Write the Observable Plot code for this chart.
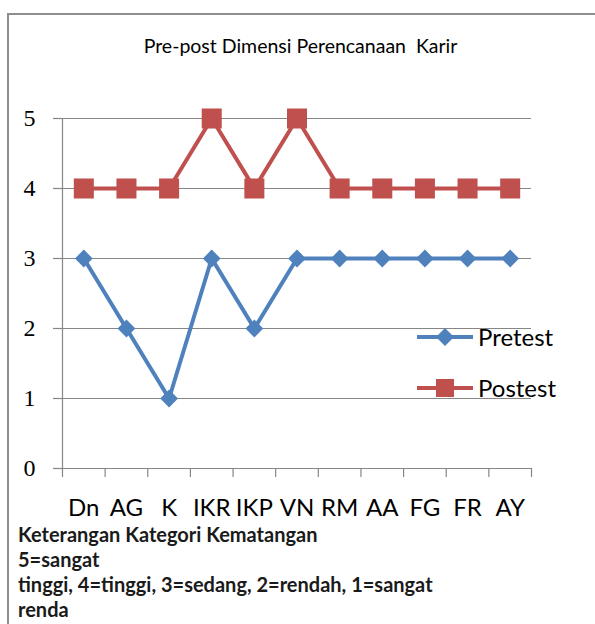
<!DOCTYPE html>
<html>
<head>
<meta charset="utf-8">
<script src="https://cdn.jsdelivr.net/npm/d3@7"></script>
<script src="https://cdn.jsdelivr.net/npm/@observablehq/plot@0.6"></script>
<style>
  html, body { margin: 0; padding: 0; background: #fff; overflow: hidden; }
  #wrap { position: relative; width: 595px; height: 624px; overflow: hidden; font-family: Lato, sans-serif; color: #000; }
  #frame { position: absolute; left: 7px; top: 13px; width: 800px; height: 800px; border-left: 2px solid #8e8e8e; border-top: 2px solid #8e8e8e; box-sizing: border-box; }
  #chart { position: absolute; left: 0; top: 0; }
  #title { position: absolute; left: 0; width: 601px; top: 34px; text-align: center; font-size: 19.5px; line-height: 24px; white-space: pre; }
  .leg { position: absolute; left: 415px; height: 30px; }
  .leg span { position: absolute; left: 63px; top: 0; font-size: 24px; line-height: 30px; white-space: nowrap; }
  #footer { position: absolute; left: 18px; top: 522px; font-size: 20px; font-weight: bold; line-height: 25px; color: #1a1a1a; white-space: nowrap; }
  #footer div { height: 25px; }
</style>
</head>
<body>
<div id="wrap">
  <div id="frame"></div>
  <div id="chart"></div>
  <div id="title"></div>
  <div id="legend"></div>
  <div id="footer"></div>
</div>
<script>
const titleText = "Pre-post Dimensi Perencanaan  Karir";
const categories = ["Dn", "AG", "K", "IKR", "IKP", "VN", "RM", "AA", "FG", "FR", "AY"];
const pretest = [3, 2, 1, 3, 2, 3, 3, 3, 3, 3, 3];
const postest = [4, 4, 4, 5, 4, 5, 4, 4, 4, 4, 4];
const yTicks = [0, 1, 2, 3, 4, 5];
const seriesNames = ["Pretest", "Postest"];
const seriesColors = ["#4F81BD", "#C0504D"];
const footerLines = [
  "Keterangan Kategori Kematangan",
  "5=sangat",
  "tinggi, 4=tinggi, 3=sedang, 2=rendah, 1=sangat",
  "renda"
];

const data = categories.flatMap((c, i) => [
  {i, c, series: "Pretest", v: pretest[i]},
  {i, c, series: "Postest", v: postest[i]}
]);
const pre = data.filter(d => d.series === "Pretest");
const post = data.filter(d => d.series === "Postest");
const grid = "#868686";

const chart = Plot.plot({
  width: 595,
  height: 624,
  marginLeft: 62,
  marginRight: 64,
  marginTop: 118,
  marginBottom: 156,
  style: {background: "transparent", overflow: "visible"},
  x: {type: "linear", domain: [0, categories.length], axis: null, label: null},
  y: {domain: [0, 5], axis: null, label: null},
  marks: [
    Plot.ruleY(yTicks, {y: d => d, stroke: grid, strokeWidth: 1.2}),
    Plot.ruleX([0], {x: d => d, y1: 0, y2: 5, stroke: grid, strokeWidth: 1.2}),
    Plot.axisY(yTicks, {tickSize: 9, tickPadding: 18, stroke: grid, strokeWidth: 1.2, fill: "#000", label: null,
      fontSize: 24, fontFamily: "Liberation Serif", tickFormat: d => String(d)}),
    Plot.axisX(d3.range(categories.length + 1), {tickSize: 9, tickFormat: () => "", stroke: grid, strokeWidth: 1.2, label: null}),
    Plot.axisX(categories.map((c, i) => i + 0.5), {tickSize: 0, tickPadding: 30, fill: "#000", label: null,
      fontSize: 24, fontFamily: "Lato", tickFormat: d => categories[Math.floor(d)]}),
    Plot.line(pre, {x: d => d.i + 0.5, y: "v", stroke: seriesColors[0], strokeWidth: 4}),
    Plot.line(post, {x: d => d.i + 0.5, y: "v", stroke: seriesColors[1], strokeWidth: 4}),
    Plot.dot(pre, {x: d => d.i + 0.5, y: "v", symbol: "diamond2", r: 8, fill: seriesColors[0], stroke: "none"}),
    Plot.dot(post, {x: d => d.i + 0.5, y: "v", symbol: "square", r: 11.3, fill: seriesColors[1], stroke: "none"})
  ]
});
document.getElementById("chart").appendChild(chart);

document.getElementById("title").textContent = titleText;

const legend = document.getElementById("legend");
const legY = [322, 373];
seriesNames.forEach((name, k) => {
  const div = document.createElement("div");
  div.className = "leg";
  div.style.top = legY[k] + "px";
  const marker = k === 0
    ? `<polygon points="30,6 39,15 30,24 21,15" fill="${seriesColors[k]}"/>`
    : `<rect x="21" y="6" width="18" height="18" fill="${seriesColors[k]}"/>`;
  div.innerHTML = `<svg width="60" height="30" style="position:absolute;left:0;top:0">
      <line x1="2" y1="15" x2="58" y2="15" stroke="${seriesColors[k]}" stroke-width="4"/>${marker}</svg>
      <span>${name}</span>`;
  legend.appendChild(div);
});

const footer = document.getElementById("footer");
footerLines.forEach(t => {
  const d = document.createElement("div");
  d.textContent = t;
  footer.appendChild(d);
});
</script>
</body>
</html>
